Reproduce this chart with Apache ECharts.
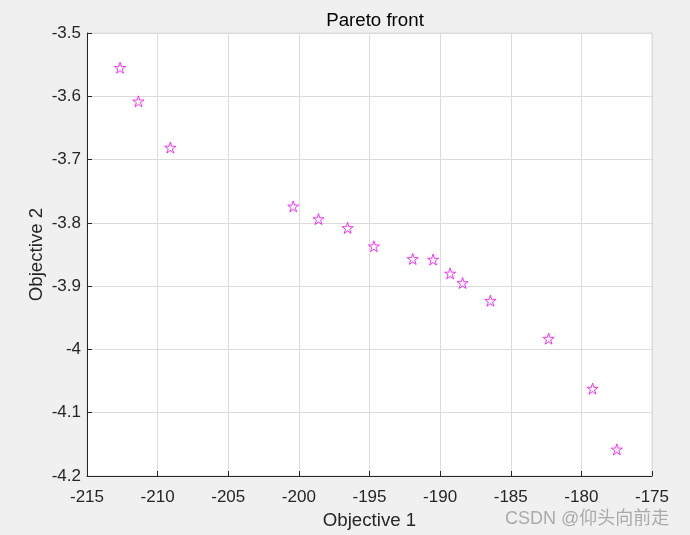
<!DOCTYPE html>
<html>
<head>
<meta charset="utf-8">
<script src="https://cdn.jsdelivr.net/npm/echarts@6/dist/echarts.min.js"></script>
<style>html,body{margin:0;padding:0;background:#f0f0f0;}#c{width:690px;height:535px;}</style>
</head>
<body>
<div id="c"></div>
<script>
var obj1 = [-212.66, -211.36, -209.10, -200.40, -198.61, -196.55, -194.69, -191.94, -190.50, -189.29, -188.41, -186.44, -182.32, -179.21, -177.49];
var obj2 = [-3.555, -3.608, -3.681, -3.774, -3.794, -3.808, -3.837, -3.857, -3.858, -3.880, -3.895, -3.923, -3.983, -4.062, -4.158];
var xTicks = [-215, -210, -205, -200, -195, -190, -185, -180, -175];
var yTicks = [-4.2, -4.1, -4, -3.9, -3.8, -3.7, -3.6, -3.5];

var data = obj1.map(function (v, i) { return [v, obj2[i]]; });
var star = 'path://M100,0L122.45,69.1L195.1,69.1L136.3,111.8L158.8,180.9L100,138.2L41.2,180.9L63.7,111.8L4.9,69.1L77.55,69.1Z';
var font = 'Liberation Sans, Arial, Helvetica, sans-serif';

var chart = echarts.init(document.getElementById('c'), null, {renderer: 'canvas'});
chart.setOption({
  backgroundColor: '#f0f0f0',
  animation: false,
  title: {
    text: 'Pareto front', left: 370, top: 6, textAlign: 'center',
    textStyle: {fontFamily: font, fontSize: 18.7, fontWeight: 'normal', color: '#000'}
  },
  grid: {
    left: 87, right: 38, top: 33, bottom: 57,
    show: true, backgroundColor: '#ffffff', borderColor: '#dcdcdc', borderWidth: 1
  },
  xAxis: {
    type: 'value', min: xTicks[0], max: xTicks[xTicks.length - 1], interval: 5,
    name: 'Objective 1', nameLocation: 'middle', nameGap: 35, nameMoveOverlap: false,
    nameTextStyle: {fontFamily: font, fontSize: 18.7, color: '#262626'},
    axisLine: {show: true, onZero: false, lineStyle: {color: '#262626', width: 1}},
    axisTick: {show: true, inside: true, length: 5, lineStyle: {color: '#262626'}},
    axisLabel: {fontFamily: font, fontSize: 17, color: '#262626', margin: 13,
      formatter: function (v) { return String(Math.round(v)); }},
    splitLine: {show: true, lineStyle: {color: '#dcdcdc', width: 1}}
  },
  yAxis: {
    type: 'value', min: yTicks[0], max: yTicks[yTicks.length - 1], interval: 0.1,
    name: 'Objective 2', nameLocation: 'middle', nameGap: 41, nameMoveOverlap: false,
    nameTextStyle: {fontFamily: font, fontSize: 18.7, color: '#262626'},
    axisLine: {show: true, onZero: false, lineStyle: {color: '#262626', width: 1}},
    axisTick: {show: true, inside: true, length: 5, lineStyle: {color: '#262626'}},
    axisLabel: {fontFamily: font, fontSize: 17, color: '#262626', margin: 6,
      formatter: function (v) { return String(parseFloat(v.toFixed(1))); }},
    splitLine: {show: true, lineStyle: {color: '#dcdcdc', width: 1}}
  },
  graphic: [{
    type: 'text', left: 505, top: 510,
    style: {text: 'CSDN @仰头向前走', fontFamily: 'Liberation Sans, Noto Sans CJK SC, sans-serif', fontSize: 18, fill: '#aaaaaa'}
  }],
  series: [{
    type: 'scatter',
    data: data,
    symbol: star,
    symbolSize: [11, 11],
    itemStyle: {color: 'rgba(0,0,0,0)', borderColor: '#ff00ff', borderWidth: 1}
  }]
});
</script>
</body>
</html>
